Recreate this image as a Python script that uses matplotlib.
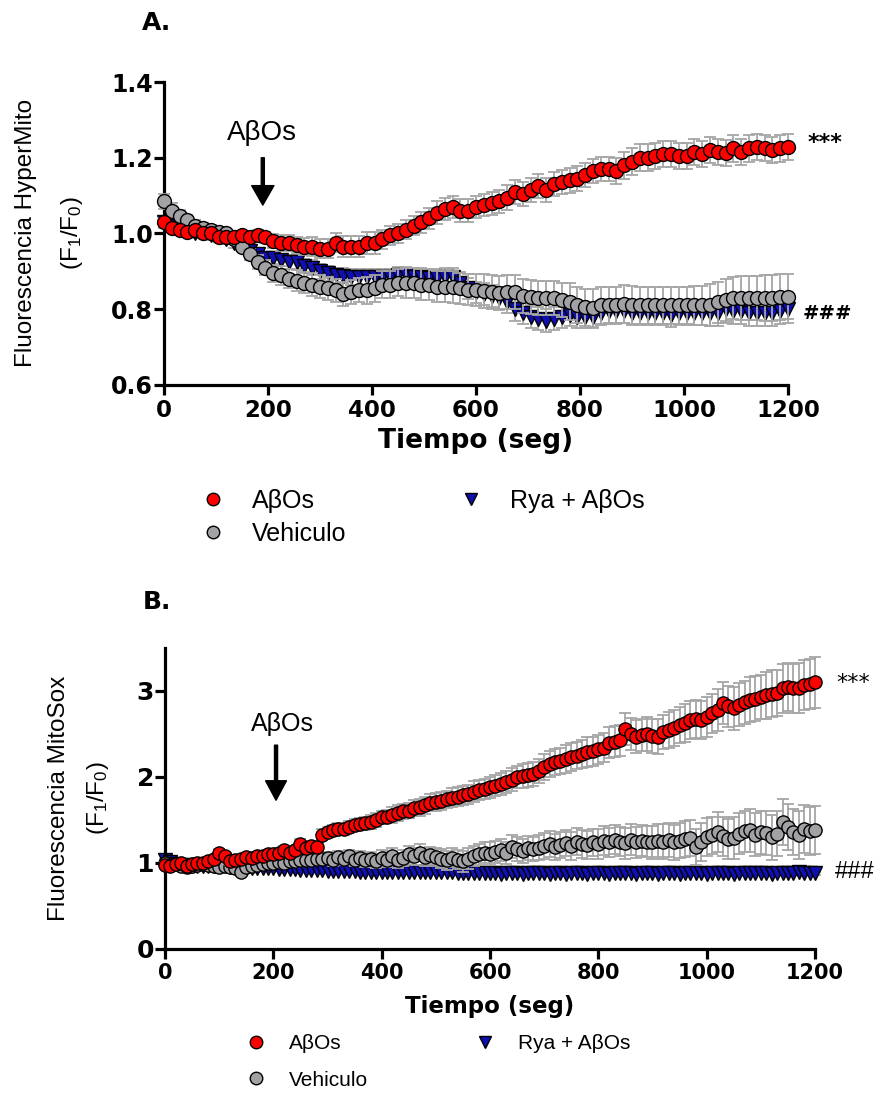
import numpy as np
import matplotlib
matplotlib.use('Agg')
import matplotlib.pyplot as plt
from matplotlib.lines import Line2D

plt.rcParams['font.family'] = ['Liberation Sans', 'DejaVu Sans']
plt.rcParams['mathtext.default'] = 'regular'

W, H = 879, 1095

# ---------------- panel A: HyperMito, one point every 15 s ----------------
time_a = np.arange(0, 1201, 15)

abos_a = [1.03, 1.015, 1.01, 1.005, 1.01, 1.0, 1.0, 0.99, 0.99, 0.99,
          0.995, 0.99, 0.995, 0.99, 0.98, 0.975, 0.975, 0.97, 0.965, 0.965,
          0.96, 0.96, 0.975, 0.965, 0.965, 0.965, 0.975, 0.975, 0.985, 0.995,
          1.0, 1.01, 1.02, 1.03, 1.04, 1.055, 1.065, 1.07, 1.06, 1.06,
          1.07, 1.075, 1.08, 1.085, 1.095, 1.11, 1.105, 1.115, 1.125, 1.115,
          1.13, 1.135, 1.14, 1.145, 1.155, 1.165, 1.17, 1.17, 1.165, 1.18,
          1.19, 1.2, 1.2, 1.205, 1.21, 1.21, 1.205, 1.205, 1.215, 1.21,
          1.22, 1.215, 1.212, 1.225, 1.215, 1.225, 1.228, 1.226, 1.22, 1.225,
          1.228]
abos_a_err = [0.012, 0.01, 0.01, 0.01, 0.01, 0.01, 0.01, 0.012, 0.012, 0.012,
              0.012, 0.015, 0.015, 0.015, 0.018, 0.02, 0.02, 0.022, 0.022, 0.025,
              0.025, 0.025, 0.025, 0.028, 0.028, 0.028, 0.028, 0.028, 0.025, 0.025,
              0.025, 0.025, 0.025, 0.028, 0.028, 0.03, 0.03, 0.03, 0.03, 0.03,
              0.03, 0.03, 0.03, 0.03, 0.032, 0.032, 0.032, 0.032, 0.032, 0.032,
              0.032, 0.032, 0.032, 0.032, 0.032, 0.032, 0.032, 0.032, 0.035, 0.035,
              0.035, 0.035, 0.035, 0.035, 0.035, 0.035, 0.035, 0.035, 0.035, 0.035,
              0.035, 0.035, 0.035, 0.035, 0.035, 0.035, 0.035, 0.035, 0.035, 0.035,
              0.035]

veh_a = [1.085, 1.06, 1.045, 1.035, 1.02, 1.015, 1.01, 1.005, 1.0, 0.985,
         0.965, 0.945, 0.925, 0.91, 0.895, 0.89, 0.88, 0.875, 0.87, 0.865,
         0.86, 0.855, 0.85, 0.84, 0.845, 0.85, 0.85, 0.855, 0.865, 0.865,
         0.87, 0.87, 0.87, 0.865, 0.865, 0.86, 0.86, 0.858, 0.855, 0.852,
         0.85, 0.847, 0.845, 0.843, 0.845, 0.846, 0.835, 0.832, 0.83, 0.83,
         0.83, 0.825, 0.82, 0.812, 0.805, 0.803, 0.81, 0.81, 0.81, 0.815,
         0.812, 0.81, 0.81, 0.81, 0.81, 0.81, 0.81, 0.81, 0.81, 0.81,
         0.812, 0.818, 0.825, 0.83, 0.83, 0.83, 0.83, 0.83, 0.83, 0.832,
         0.833]
veh_a_err = [0.02, 0.02, 0.018, 0.015, 0.015, 0.012, 0.012, 0.012, 0.012, 0.012,
             0.012, 0.015, 0.018, 0.02, 0.022, 0.025, 0.025, 0.028, 0.028, 0.03,
             0.03, 0.03, 0.03, 0.032, 0.032, 0.032, 0.035, 0.035, 0.035, 0.035,
             0.035, 0.04, 0.04, 0.04, 0.04, 0.04, 0.042, 0.042, 0.042, 0.042,
             0.042, 0.045, 0.045, 0.045, 0.045, 0.045, 0.045, 0.045, 0.045, 0.045,
             0.045, 0.045, 0.048, 0.048, 0.048, 0.05, 0.05, 0.05, 0.05, 0.05,
             0.05, 0.05, 0.05, 0.05, 0.05, 0.05, 0.05, 0.05, 0.052, 0.052,
             0.055, 0.055, 0.055, 0.055, 0.058, 0.058, 0.058, 0.06, 0.06, 0.06,
             0.06]

rya_a = [1.03, 1.02, 1.01, 1.005, 1.0, 1.0, 0.995, 0.99, 0.985, 0.975,
         0.965, 0.955, 0.945, 0.935, 0.935, 0.93, 0.925, 0.925, 0.915, 0.91,
         0.9, 0.895, 0.89, 0.888, 0.885, 0.885, 0.885, 0.885, 0.885, 0.885,
         0.89, 0.89, 0.885, 0.885, 0.882, 0.882, 0.885, 0.885, 0.87, 0.855,
         0.845, 0.84, 0.835, 0.83, 0.82, 0.8, 0.79, 0.78, 0.775, 0.77,
         0.775, 0.78, 0.785, 0.78, 0.78, 0.78, 0.79, 0.795, 0.795, 0.795,
         0.79, 0.79, 0.79, 0.79, 0.79, 0.785, 0.79, 0.79, 0.79, 0.79,
         0.79, 0.79, 0.8, 0.795, 0.795, 0.79, 0.79, 0.79, 0.79, 0.795,
         0.8]
rya_a_err = [0.015, 0.015, 0.012, 0.012, 0.012, 0.012, 0.012, 0.012, 0.012, 0.012,
             0.012, 0.012, 0.015, 0.015, 0.015, 0.015, 0.018, 0.018, 0.018, 0.02,
             0.02, 0.02, 0.02, 0.02, 0.02, 0.022, 0.022, 0.022, 0.022, 0.022,
             0.022, 0.022, 0.025, 0.025, 0.025, 0.025, 0.025, 0.025, 0.028, 0.028,
             0.028, 0.028, 0.028, 0.03, 0.03, 0.03, 0.03, 0.03, 0.03, 0.03,
             0.03, 0.03, 0.03, 0.03, 0.03, 0.03, 0.032, 0.032, 0.032, 0.032,
             0.032, 0.032, 0.032, 0.032, 0.032, 0.032, 0.032, 0.032, 0.032, 0.032,
             0.035, 0.035, 0.035, 0.035, 0.035, 0.035, 0.035, 0.035, 0.035, 0.035,
             0.035]

# ---------------- panel B: MitoSox, one point every 10 s ----------------
time_b = np.arange(0, 1201, 10)

abos_b = [0.98, 0.97, 0.99, 1.0, 0.97, 0.99, 1.0, 1.0, 1.02, 1.05,
          1.12, 1.08, 1.02, 1.04, 1.05, 1.07, 1.06, 1.08, 1.08, 1.1,
          1.11, 1.12, 1.15, 1.12, 1.15, 1.22, 1.18, 1.2, 1.19, 1.33,
          1.36, 1.38, 1.4, 1.4, 1.42, 1.44, 1.45, 1.46, 1.48, 1.5,
          1.53, 1.54, 1.56, 1.58, 1.6, 1.61, 1.64, 1.65, 1.67, 1.7,
          1.71, 1.72, 1.74, 1.76, 1.77, 1.79, 1.8, 1.83, 1.85, 1.86,
          1.88, 1.9, 1.92, 1.94, 1.97, 2.0, 2.01, 2.02, 2.03, 2.07,
          2.12, 2.15, 2.17, 2.19, 2.21, 2.23, 2.25, 2.27, 2.29, 2.3,
          2.32, 2.34, 2.4, 2.41, 2.43, 2.56, 2.5, 2.47, 2.49, 2.5,
          2.48, 2.47, 2.52, 2.55, 2.57, 2.6, 2.63, 2.66, 2.67, 2.66,
          2.7, 2.74, 2.78, 2.86, 2.82, 2.8, 2.84, 2.87, 2.9, 2.91,
          2.93, 2.95, 2.97, 2.98, 3.03, 3.05, 3.03, 3.04, 3.07, 3.08,
          3.1]
abos_b_err = [0.03, 0.03, 0.03, 0.03, 0.03, 0.03, 0.03, 0.03, 0.03, 0.03,
              0.04, 0.04, 0.04, 0.04, 0.04, 0.04, 0.04, 0.04, 0.04, 0.04,
              0.05, 0.05, 0.05, 0.05, 0.05, 0.06, 0.06, 0.06, 0.06, 0.06,
              0.06, 0.06, 0.07, 0.07, 0.07, 0.07, 0.07, 0.08, 0.08, 0.08,
              0.08, 0.08, 0.09, 0.09, 0.09, 0.09, 0.09, 0.1, 0.1, 0.1,
              0.1, 0.1, 0.1, 0.11, 0.11, 0.11, 0.11, 0.12, 0.12, 0.12,
              0.12, 0.12, 0.13, 0.13, 0.13, 0.13, 0.14, 0.14, 0.14, 0.14,
              0.15, 0.15, 0.15, 0.15, 0.16, 0.16, 0.16, 0.16, 0.17, 0.17,
              0.17, 0.17, 0.18, 0.18, 0.18, 0.19, 0.19, 0.19, 0.19, 0.2,
              0.2, 0.2, 0.2, 0.21, 0.21, 0.21, 0.22, 0.22, 0.22, 0.22,
              0.23, 0.23, 0.24, 0.24, 0.24, 0.25, 0.25, 0.25, 0.26, 0.26,
              0.26, 0.27, 0.27, 0.27, 0.28, 0.28, 0.28, 0.29, 0.29, 0.29,
              0.3]

veh_b = [1.0, 0.98, 0.99, 0.97, 0.95, 0.97, 0.98, 0.99, 0.98, 0.97,
         0.95, 0.96, 0.95, 0.94, 0.9, 0.95, 0.97, 0.98, 0.99, 1.0,
         1.0, 1.01, 1.0, 1.02, 1.02, 1.03, 1.03, 1.04, 1.05, 1.05,
         1.06, 1.04, 1.07, 1.05, 1.08, 1.04, 1.06, 1.03, 1.05, 1.02,
         1.06, 1.04, 1.08, 1.03, 1.06, 1.1, 1.08, 1.12, 1.07, 1.09,
         1.07, 1.05, 1.03, 1.06, 1.04, 1.02, 1.05, 1.08, 1.1, 1.12,
         1.11, 1.13, 1.15, 1.12, 1.19, 1.16, 1.14, 1.17, 1.16, 1.18,
         1.2, 1.22, 1.19, 1.21, 1.23, 1.2, 1.25, 1.22, 1.21, 1.24,
         1.22, 1.26, 1.24, 1.27, 1.25, 1.23, 1.27, 1.24, 1.26, 1.25,
         1.24, 1.26, 1.25, 1.27, 1.24, 1.26, 1.28, 1.29, 1.19, 1.24,
         1.3, 1.32, 1.36, 1.31, 1.28, 1.29, 1.34, 1.37, 1.38, 1.33,
         1.36, 1.35, 1.3, 1.34, 1.48, 1.42, 1.36, 1.33, 1.4, 1.37,
         1.38]
veh_b_err = [0.03, 0.03, 0.03, 0.03, 0.03, 0.03, 0.03, 0.03, 0.03, 0.03,
             0.04, 0.04, 0.04, 0.04, 0.04, 0.04, 0.04, 0.04, 0.04, 0.04,
             0.05, 0.05, 0.05, 0.05, 0.05, 0.05, 0.06, 0.06, 0.06, 0.06,
             0.07, 0.07, 0.07, 0.07, 0.07, 0.08, 0.08, 0.08, 0.08, 0.08,
             0.09, 0.09, 0.09, 0.09, 0.09, 0.1, 0.1, 0.1, 0.1, 0.1,
             0.11, 0.11, 0.11, 0.11, 0.11, 0.12, 0.12, 0.12, 0.12, 0.12,
             0.13, 0.13, 0.13, 0.13, 0.13, 0.14, 0.14, 0.14, 0.14, 0.14,
             0.15, 0.15, 0.15, 0.15, 0.15, 0.16, 0.16, 0.16, 0.16, 0.16,
             0.17, 0.17, 0.17, 0.17, 0.17, 0.18, 0.18, 0.18, 0.18, 0.18,
             0.19, 0.19, 0.2, 0.2, 0.2, 0.2, 0.21, 0.21, 0.21, 0.22,
             0.22, 0.22, 0.23, 0.23, 0.23, 0.24, 0.24, 0.24, 0.25, 0.25,
             0.25, 0.26, 0.26, 0.26, 0.27, 0.27, 0.27, 0.28, 0.28, 0.28,
             0.28]

rya_b = [1.03, 1.01, 0.99, 0.98, 0.98, 0.97, 0.97, 0.97, 0.96, 0.96,
         0.96, 0.96, 0.95, 0.95, 0.95, 0.95, 0.94, 0.94, 0.94, 0.94,
         0.94, 0.93, 0.93, 0.93, 0.93, 0.92, 0.92, 0.92, 0.92, 0.92,
         0.91, 0.91, 0.91, 0.91, 0.91, 0.91, 0.9, 0.9, 0.9, 0.9,
         0.9, 0.9, 0.9, 0.89, 0.89, 0.89, 0.89, 0.89, 0.89, 0.89,
         0.89, 0.89, 0.89, 0.89, 0.88, 0.88, 0.88, 0.88, 0.88, 0.88,
         0.88, 0.88, 0.87, 0.88, 0.88, 0.88, 0.87, 0.88, 0.88, 0.88,
         0.88, 0.87, 0.88, 0.88, 0.87, 0.88, 0.88, 0.88, 0.87, 0.88,
         0.88, 0.88, 0.87, 0.88, 0.88, 0.88, 0.88, 0.87, 0.88, 0.88,
         0.88, 0.87, 0.88, 0.88, 0.88, 0.87, 0.88, 0.88, 0.88, 0.88,
         0.87, 0.88, 0.88, 0.88, 0.88, 0.87, 0.88, 0.88, 0.88, 0.88,
         0.88, 0.88, 0.87, 0.88, 0.88, 0.88, 0.88, 0.89, 0.88, 0.88,
         0.88]
rya_b_err = [0.02, 0.02, 0.02, 0.02, 0.02, 0.02, 0.02, 0.02, 0.02, 0.02,
             0.02, 0.02, 0.02, 0.02, 0.02, 0.02, 0.02, 0.02, 0.02, 0.02,
             0.02, 0.02, 0.02, 0.02, 0.02, 0.02, 0.02, 0.02, 0.02, 0.02,
             0.02, 0.02, 0.02, 0.02, 0.02, 0.02, 0.02, 0.02, 0.02, 0.02,
             0.02, 0.02, 0.02, 0.02, 0.02, 0.02, 0.02, 0.02, 0.02, 0.02,
             0.02, 0.02, 0.02, 0.02, 0.02, 0.02, 0.02, 0.02, 0.02, 0.02,
             0.02, 0.02, 0.02, 0.02, 0.02, 0.02, 0.02, 0.02, 0.02, 0.02,
             0.02, 0.02, 0.02, 0.02, 0.02, 0.02, 0.02, 0.02, 0.02, 0.02,
             0.02, 0.02, 0.02, 0.02, 0.02, 0.02, 0.02, 0.02, 0.02, 0.02,
             0.02, 0.02, 0.02, 0.02, 0.02, 0.02, 0.02, 0.02, 0.02, 0.02,
             0.02, 0.02, 0.02, 0.02, 0.02, 0.02, 0.02, 0.02, 0.02, 0.02,
             0.02, 0.02, 0.02, 0.02, 0.02, 0.02, 0.02, 0.02, 0.02, 0.02,
             0.02]

x_ticks = [0, 200, 400, 600, 800, 1000, 1200]
y_ticks_a = [0.6, 0.8, 1.0, 1.2, 1.4]
y_labels_a = ['0.6', '0.8', '1.0', '1.2', '1.4']
y_ticks_b = [0, 1, 2, 3]
y_labels_b = ['0', '1', '2', '3']

series_names = ['A\u03b2Os', 'Vehiculo', 'Rya + A\u03b2Os']

RED = '#ff0000'
GREY = '#a2a2a6'
BLUE = '#1010b0'
ERR = '#a6a6a6'
BOLD = dict(family='DejaVu Sans', weight='bold')


def fx(px):
    return px / W


def fy(py):
    return 1 - py / H


def draw_series(ax, t, y, e, marker, color, ms, z):
    ax.errorbar(t, y, yerr=e, fmt='none', ecolor=ERR, elinewidth=1.3,
                capsize=4.5, capthick=1.3, zorder=z, clip_on=False)
    ax.plot(t, y, ls='none', marker=marker, ms=ms, mfc=color, mec='black',
            mew=1.0, zorder=z + 0.5, clip_on=False)


def style_axes(ax, ylim, yticks, ylabels, xsize, ysize):
    ax.set_xlim(0, 1200)
    ax.set_ylim(*ylim)
    for s in ['top', 'right']:
        ax.spines[s].set_visible(False)
    for s in ['left', 'bottom']:
        ax.spines[s].set_linewidth(2.3)
    ax.set_xticks(x_ticks)
    ax.set_xticklabels([str(v) for v in x_ticks], fontsize=xsize, **BOLD)
    ax.set_yticks(yticks)
    ax.set_yticklabels(ylabels, fontsize=ysize, **BOLD)
    ax.tick_params(width=2.3, length=7, direction='out')
    ax.tick_params(axis='y', pad=1)
    ax.tick_params(axis='x', pad=3)


def legend_handles():
    return [Line2D([], [], ls='none', marker='o', ms=9, mfc=RED, mec='black', mew=1.0),
            Line2D([], [], ls='none', marker='o', ms=9, mfc=GREY, mec='black', mew=1.0),
            Line2D([], [], ls='none', marker='v', ms=9, mfc=BLUE, mec='black', mew=1.0)]


fig = plt.figure(figsize=(W / 100, H / 100), dpi=100)

# ---------------- panel A ----------------
axA = fig.add_axes([fx(164), fy(385), 624 / W, 303 / H])
draw_series(axA, time_a, rya_a, rya_a_err, 'v', BLUE, 10, 2)
draw_series(axA, time_a, veh_a, veh_a_err, 'o', GREY, 10, 4)
draw_series(axA, time_a, abos_a, abos_a_err, 'o', RED, 10, 6)
style_axes(axA, (0.6, 1.4), y_ticks_a, y_labels_a, 16.5, 17)

axA.annotate('', xy=(190, 1.075), xytext=(190, 1.2),
             arrowprops=dict(facecolor='black', edgecolor='black', width=2.2,
                             headwidth=16, headlength=14, shrink=0))
axA.text(188, 1.265, 'A\u03b2Os', ha='center', va='center', fontsize=20)
axA.text(1238, 1.238, '***', ha='left', va='center', fontsize=16, clip_on=False, **BOLD)
axA.text(1229, 0.79, '###', ha='left', va='center', fontsize=14, clip_on=False, **BOLD)

fig.text(fx(157), fy(23), 'A.', ha='center', va='center', fontsize=18, **BOLD)
fig.text(fx(26), fy(233), 'Fluorescencia HyperMito', rotation=90,
         ha='center', va='center', fontsize=17.5)
fig.text(fx(72), fy(233), '(F$_1$/F$_0$)', rotation=90,
         ha='center', va='center', fontsize=17.5)
fig.text(fx(476), fy(441), 'Tiempo (seg)', ha='center', va='center', fontsize=19, **BOLD)

fig.legend(handles=legend_handles(), labels=series_names, ncol=2,
           loc='upper left', bbox_to_anchor=(fx(194), fy(489)), frameon=False,
           fontsize=18, handlelength=1.5, handletextpad=0.8, columnspacing=4.25,
           labelspacing=0.36, borderpad=0, borderaxespad=0)

# ---------------- panel B ----------------
axB = fig.add_axes([fx(165), fy(949), 650 / W, 301 / H])
draw_series(axB, time_b, rya_b, rya_b_err, 'v', BLUE, 9.5, 2)
draw_series(axB, time_b, veh_b, veh_b_err, 'o', GREY, 9.5, 4)
draw_series(axB, time_b, abos_b, abos_b_err, 'o', RED, 9.5, 6)
style_axes(axB, (0, 3.5), y_ticks_b, y_labels_b, 15, 18)

axB.annotate('', xy=(205, 1.73), xytext=(205, 2.37),
             arrowprops=dict(facecolor='black', edgecolor='black', width=2.2,
                             headwidth=15, headlength=14, shrink=0))
axB.text(216, 2.62, 'A\u03b2Os', ha='center', va='center', fontsize=18)
axB.text(1240, 3.09, '***', ha='left', va='center', fontsize=16, clip_on=False,
         family='DejaVu Sans')
axB.text(1237, 0.895, '###', ha='left', va='center', fontsize=17, clip_on=False)

fig.text(fx(157), fy(602), 'B.', ha='center', va='center', fontsize=18, **BOLD)
fig.text(fx(59), fy(798), 'Fluorescencia MitoSox', rotation=90,
         ha='center', va='center', fontsize=17.5)
fig.text(fx(98), fy(798), '(F$_1$/F$_0$)', rotation=90,
         ha='center', va='center', fontsize=17.5)
fig.text(fx(490), fy(1006), 'Tiempo (seg)', ha='center', va='center', fontsize=16.5, **BOLD)

fig.legend(handles=legend_handles(), labels=series_names, ncol=2,
           loc='upper left', bbox_to_anchor=(fx(240), fy(1034)), frameon=False,
           fontsize=15, handlelength=1.5, handletextpad=0.85, columnspacing=4.85,
           labelspacing=0.85, borderpad=0, borderaxespad=0)

fig.savefig('out.png', dpi=100)
